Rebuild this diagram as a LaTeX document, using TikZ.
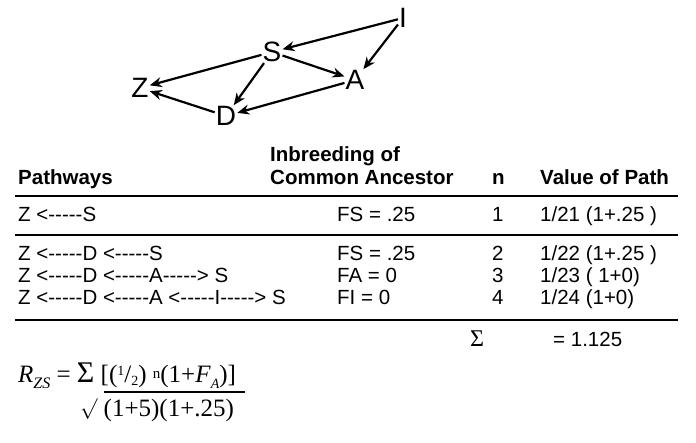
\documentclass[tikz,border=0pt]{standalone}
\usepackage{fontspec}
\setmainfont{Liberation Sans}
\newfontfamily\serifm{Liberation Serif}
\usetikzlibrary{arrows.meta}
\newcommand\dsh{-{}-{}-{}-{}-}
\begin{document}
\begin{tikzpicture}[x=1pt,y=-1pt,
  lt/.style={font=\fontsize{28}{30}\selectfont,inner sep=1pt},
  arr/.style={-{Stealth[length=12pt,width=10pt]},line width=2.2pt},
  tx/.style={anchor=base west,font=\fontsize{20.5}{23}\selectfont,inner sep=0pt},
  hd/.style={tx,font=\fontsize{20.5}{23}\selectfont\bfseries},
  rule/.style={line width=2.5pt}]
\useasboundingbox (0,0) rectangle (696,443);
\node[lt] (I) at (403,18) {I};
\node[lt] (S) at (272,52) {S};
\node[lt] (A) at (355,80) {A};
\node[lt] (Z) at (140,88) {Z};
\node[lt] (D) at (226,116) {D};
\draw[arr] (I) -- (S);
\draw[arr] (I) -- (A);
\draw[arr] (S) -- (A);
\draw[arr] (S) -- (Z);
\draw[arr] (S) -- (D);
\draw[arr] (A) -- (D);
\draw[arr] (D) -- (Z);
\node[hd] (h1) at (270,162) {Inbreeding of};
\node[hd] (h2) at (270,185) {Common Ancestor};
\node[hd] (h3) at (18,185) {Pathways};
\node[hd] (h4) at (492,185) {n};
\node[hd] (h5) at (540,185) {Value of Path};
\draw[rule] (15,196) -- (678,196);
\node[tx] (r1a) at (18,222) {Z <\dsh S};
\node[tx] (r1b) at (337,222) {FS = .25};
\node[tx] (r1c) at (492,222) {1};
\node[tx] (r1d) at (540,222) {1/21 (1+.25 )};
\draw[rule] (15,235) -- (678,235);
\node[tx] (r2a) at (18,261) {Z <\dsh D <\dsh S};
\node[tx] (r2b) at (337,261) {FS = .25};
\node[tx] (r2c) at (492,261) {2};
\node[tx] (r2d) at (540,261) {1/22 (1+.25 )};
\node[tx] (r3a) at (18,283) {Z <\dsh D <\dsh A\dsh> S};
\node[tx] (r3b) at (337,283) {FA = 0};
\node[tx] (r3c) at (492,283) {3};
\node[tx] (r3d) at (540,283) {1/23 ( 1+0)};
\node[tx] (r4a) at (18,305) {Z <\dsh D <\dsh A <\dsh I\dsh> S};
\node[tx] (r4b) at (337,305) {FI = 0};
\node[tx] (r4c) at (492,305) {4};
\node[tx] (r4d) at (540,305) {1/24 (1+0)};
\draw[rule] (15,320) -- (678,320);
\node[tx,font=\serifm\fontsize{24}{26}\selectfont] (sig) at (470,347) {Σ};
\node[tx] (tot) at (553,347) {= 1.125};
\node[anchor=base west,inner sep=0pt,font=\serifm\fontsize{25}{27}\selectfont] (f1) at (18,382)
  {\textit{R}\raisebox{-6pt}{\fontsize{16}{17}\selectfont\textit{ZS}} = {\fontsize{30}{30}\selectfont Σ} [(\raisebox{6pt}{\fontsize{14}{15}\selectfont 1}/\raisebox{-4pt}{\fontsize{14}{15}\selectfont 2}) \raisebox{3pt}{\fontsize{15}{16}\selectfont n}(1+\textit{F}\raisebox{-6pt}{\fontsize{14}{15}\selectfont\textit{A}})]};
\draw[line width=2.5pt] (104,392) -- (245,392);
\node[anchor=base west,inner sep=0pt,font=\serifm\fontsize{25}{27}\selectfont] (f2) at (80,416) {\raisebox{2pt}{\fontsize{20}{20}\selectfont$\surd$} (1+5)(1+.25)};
\end{tikzpicture}
\end{document}
